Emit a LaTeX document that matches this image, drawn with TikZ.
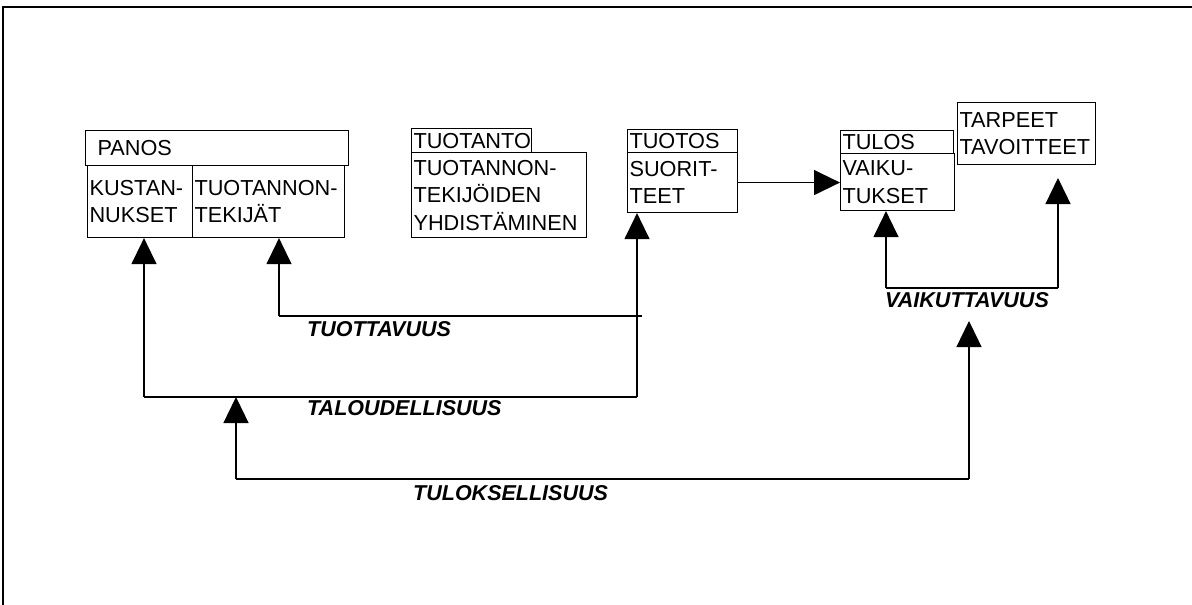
\documentclass[tikz,border=0pt]{standalone}
\usepackage{fontspec}
\setmainfont{Liberation Sans}
\usetikzlibrary{arrows.meta}
\begin{document}
\begin{tikzpicture}[x=1pt, y=-1pt,
  cell/.style={draw, line width=1.1pt, anchor=north west, inner xsep=2pt, inner ysep=0pt, align=left, font=\fontsize{21.7}{27.5}\selectfont},
  lbl/.style={anchor=west, inner sep=0pt, font=\fontsize{21.5}{24}\selectfont\bfseries\itshape},
  arr/.style={line width=1.3pt, -{Triangle[length=26pt,width=25pt]}},
  ln/.style={line width=1.3pt},
  frame/.style={line width=2.4pt}]
\useasboundingbox (0,0) rectangle (1192,605);
% frame
\coordinate (f1) at (3,7);
\coordinate (f2) at (1192,7);
\coordinate (f3) at (3,605);
\draw[frame] (f3) -- (f1) -- (f2);
% boxes
\node[cell, text width=259pt, minimum height=35pt] (panos) at (85,130) {\hspace*{10pt}PANOS};
\node[cell, text width=101pt, minimum height=72pt] (kust) at (87,165) {KUSTAN-\\NUKSET};
\node[cell, text width=148pt, minimum height=72pt] (tekijat) at (192,165) {TUOTANNON-\\TEKIJÄT};
\node[cell, text width=116pt, minimum height=24pt] (tuotanto) at (411,128) {TUOTANTO};
\node[cell, text width=171pt, minimum height=85pt] (yhd) at (411,152) {TUOTANNON-\\TEKIJÖIDEN\\YHDISTÄMINEN};
\node[cell, text width=106pt, minimum height=23pt] (tuotos) at (627,129) {TUOTOS};
\node[cell, text width=106pt, minimum height=60pt] (suor) at (627,152) {SUORIT-\\TEET};
\node[cell, text width=109pt, minimum height=23pt] (tulos) at (840,130) {TULOS};
\node[cell, text width=110pt, minimum height=57pt] (vaik) at (840,153) {VAIKU-\\TUKSET};
\node[cell, text width=134pt, minimum height=62pt] (tarpeet) at (957,102) {TARPEET\\TAVOITTEET};
% labels
\node[lbl] (ltuott) at (307,329) {TUOTTAVUUS};
\node[lbl] (ltal) at (307,408) {TALOUDELLISUUS};
\node[lbl] (ltul) at (413,493) {TULOKSELLISUUS};
\node[lbl] (lvaik) at (885,300) {VAIKUTTAVUUS};
% coordinates
\coordinate (tA) at (279,316);
\coordinate (tR) at (642,316);
\coordinate (ta1) at (144,397);
\coordinate (ta2) at (637,397);
\coordinate (tu1) at (236,479);
\coordinate (tu2) at (969,479);
\coordinate (tu3) at (969,321);
\coordinate (v1) at (886,288);
\coordinate (v2) at (1058,288);
\coordinate (v3) at (1058,178);
% connectors
\draw[arr] (suor.east) -- (suor.east -| vaik.west);
\draw[ln] (tR) -- (tA);
\draw[arr] (tA) -- (tA |- tekijat.south);
\draw[ln] (ta1) -- (ta2);
\draw[arr] (ta1) -- (ta1 |- kust.south);
\draw[arr] (ta2) -- (ta2 |- suor.south);
\draw[arr] (tu1) -- (tu1 |- ta1);
\draw[ln] (tu1) -- (tu2);
\draw[arr] (tu2) -- (tu3);
\draw[arr] (v1) -- (v1 |- vaik.south);
\draw[ln] (v1) -- (v2);
\draw[arr] (v2) -- (v3);
\end{tikzpicture}
\end{document}
